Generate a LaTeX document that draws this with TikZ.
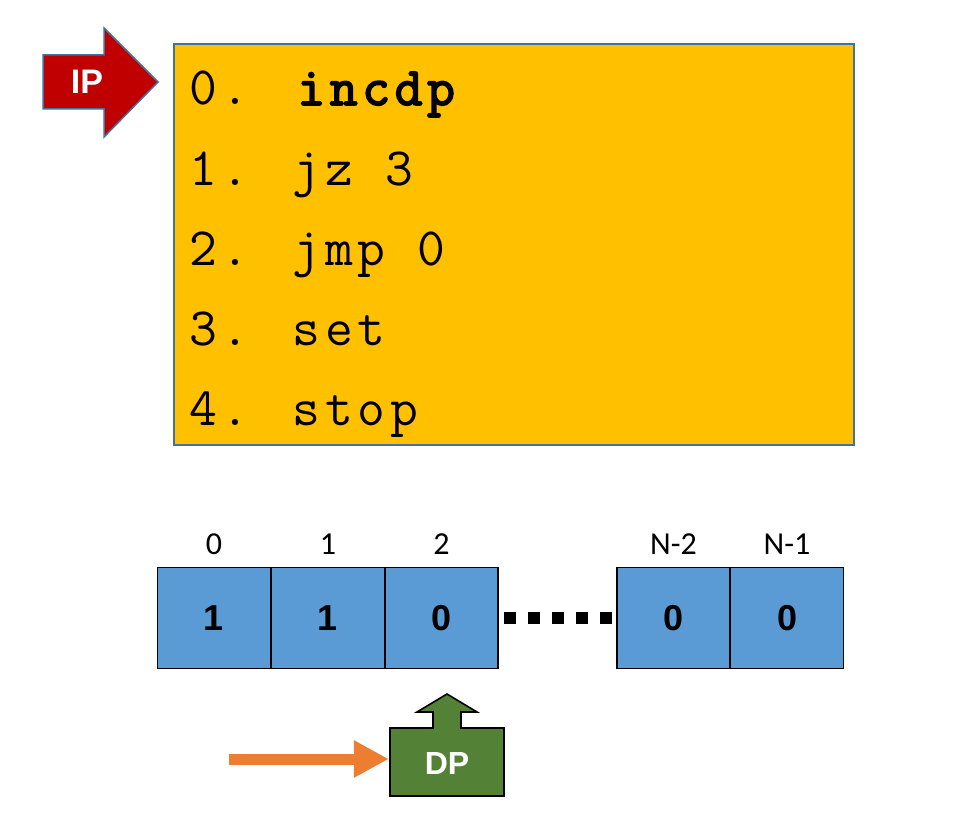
\documentclass[tikz,border=0pt]{standalone}
\usepackage{fontspec}
\setmainfont{Carlito}
\newfontfamily\codefont{lmmono12-regular.otf}[BoldFont=lmmono12-regular.otf, BoldFeatures={FakeBold=3.2}, LetterSpace=8.6]
\newfontfamily\arialfont{Liberation Sans}
\usetikzlibrary{arrows.meta}
\definecolor{codefill}{HTML}{FFC000}
\definecolor{edgeblue}{HTML}{41719C}
\definecolor{ipred}{HTML}{C00000}
\definecolor{cellblue}{HTML}{5B9BD5}
\definecolor{dpgreen}{HTML}{538135}
\definecolor{ptrorange}{HTML}{ED7D31}
\tikzset{
  codeline/.style={anchor=base west, inner sep=0pt, font=\codefont\fontsize{54}{54}\selectfont},
  cell/.style={draw=black, line width=1.6pt, fill=cellblue, minimum width=113pt, minimum height=101pt, inner sep=0pt, font=\arialfont\bfseries\fontsize{36}{36}\selectfont},
  idx/.style={inner sep=0pt, font=\fontsize{32}{32}\selectfont},
  badge/.style={inner sep=0pt, text=white, font=\arialfont\bfseries\fontsize{34}{34}\selectfont},
  dotsq/.style={fill=black}
}
\begin{document}
\begin{tikzpicture}[x=1pt,y=-1pt]
\useasboundingbox (0,0) rectangle (965,829);

% program listing
\node[draw=edgeblue, line width=1.5pt, fill=codefill, minimum width=680pt, minimum height=401pt, inner sep=0pt] (code) at (514,244.5) {};
\node[codeline] (l0) at (189,105) {0. \textbf{incdp}};
\node[codeline] (l1) at (189,185) {1. jz 3};
\node[codeline] (l2) at (189,265) {2. jmp 0};
\node[codeline] (l3) at (189,345) {3. set};
\node[codeline] (l4) at (189,425) {4. stop};

% instruction pointer
\draw[fill=ipred, draw=edgeblue, line width=1.5pt, line join=miter]
  (43,55) -- (104,55) -- (104,28) -- (158,82) -- (104,137) -- (104,109) -- (43,109) -- cycle;
\node[badge] (ip) at (87,82) {IP};

% memory cells
\node[cell] (c0) at (214,618) {1};
\node[cell] (c1) at (328,618) {1};
\node[cell] (c2) at (441.5,618) {0};
\node[cell] (c3) at (673.5,618) {0};
\node[cell] (c4) at (787,618) {0};
\node[idx] (i0) at (214,544) {0};
\node[idx] (i1) at (328,544) {1};
\node[idx] (i2) at (441.5,544) {2};
\node[idx] (i3) at (673.5,544) {N-2};
\node[idx] (i4) at (787,544) {N-1};

% ellipsis between the two groups of cells
\foreach \x in {504,528,552,576,600}
  \fill[dotsq] (\x,612) rectangle ++(12,12);

% data pointer
\draw[fill=dpgreen, draw=black, line width=1.6pt, line join=miter]
  (390,728) -- (433,728) -- (433,712) -- (417,712) -- (447,694) -- (477,712) -- (461,712) -- (461,728)
  -- (504,728) -- (504,796) -- (390,796) -- cycle;
\node[inner sep=0pt, minimum width=114pt, minimum height=68pt] (dp) at (447,762) {};
\node[badge, font=\arialfont\bfseries\fontsize{32}{32}\selectfont] (dplabel) at (447,763) {DP};

% incoming move arrow
\coordinate (src) at (229,759);
\draw[ptrorange, line width=11pt, -{Triangle[length=35pt,width=35pt]}, shorten >=1pt] (src) -- (dp.west |- src);
\end{tikzpicture}
\end{document}
